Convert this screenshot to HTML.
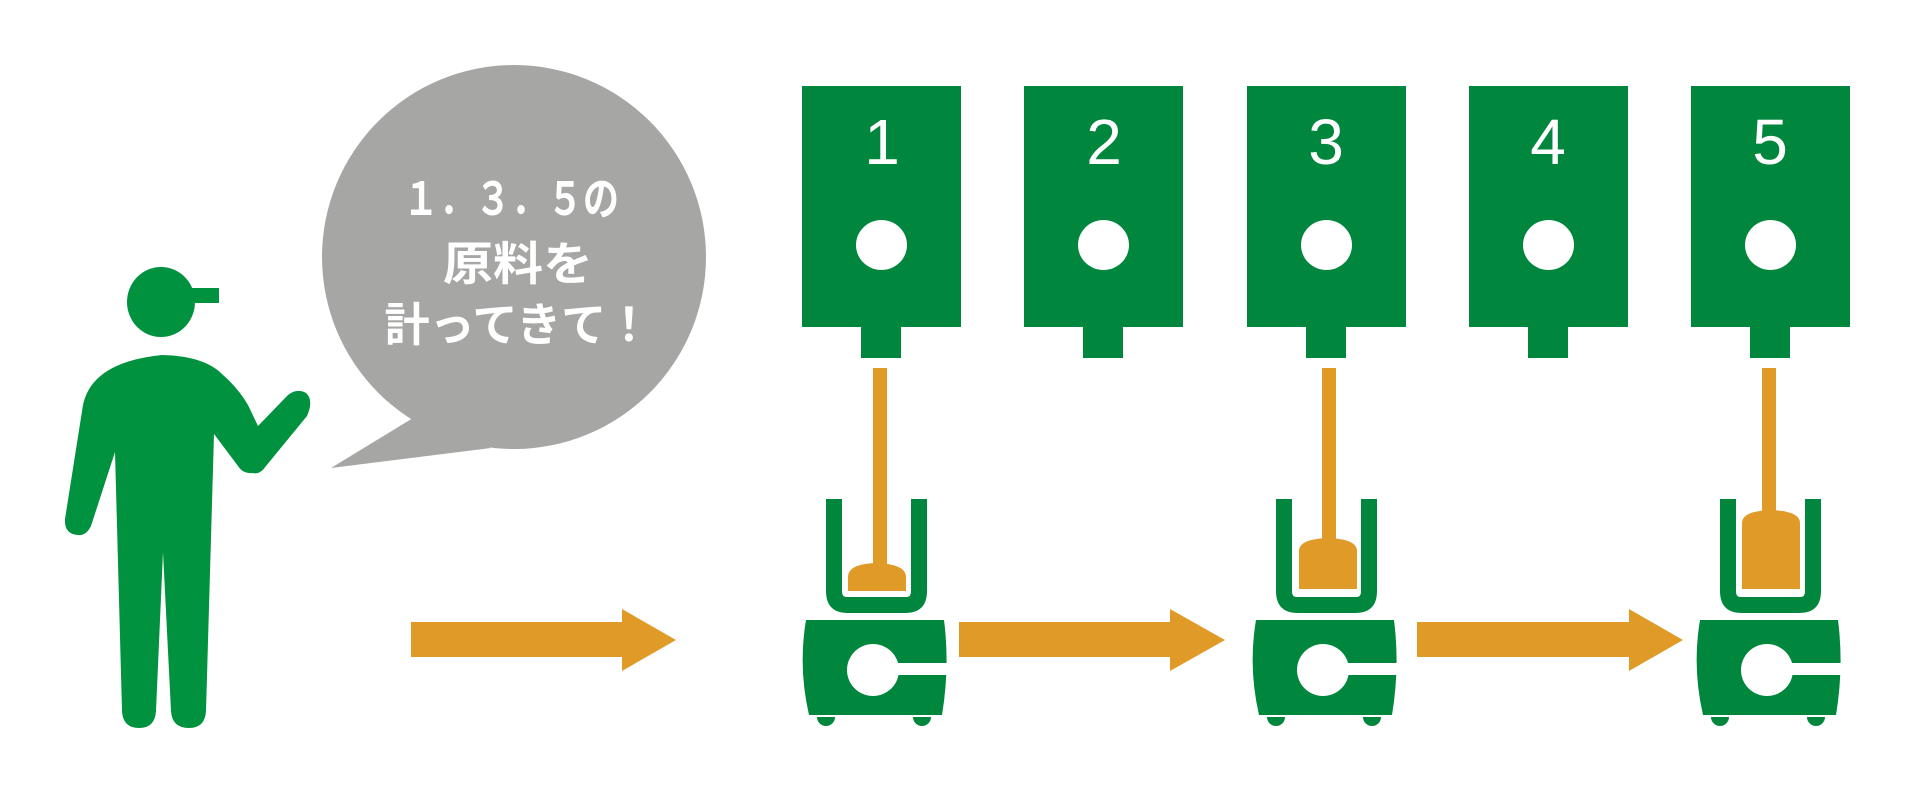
<!DOCTYPE html>
<html><head><meta charset="utf-8"><style>
html,body{margin:0;padding:0;background:#fff;}
svg{display:block;}
</style></head><body>
<svg width="1914" height="794" viewBox="0 0 1914 794" xmlns="http://www.w3.org/2000/svg">
<defs>
<g id="box">
  <rect x="0" y="86" width="159" height="241" fill="#00873d"/>
  <rect x="59" y="326" width="40" height="32" fill="#00873d"/>
  <ellipse cx="79.5" cy="245" rx="25.5" ry="25" fill="#fff"/>
</g>
<g id="mach">
  <path d="M826 499 H842 V592 Q842 597 847 597 H906 Q911 597 911 592 V499 H927 V591 Q927 613 905 613 H848 Q826 613 826 591 Z" fill="#00873d"/>
  <path d="M806 620 H944 Q950 667 942 715 H809 Q798 667 806 620 Z" fill="#00873d"/>
  <circle cx="873" cy="670" r="26" fill="#fff"/>
  <rect x="890" y="663" width="62" height="12" fill="#fff"/>
  <path d="M817 717 A9 9 0 0 0 835 717 Z" fill="#00873d"/>
  <path d="M913 717 A9 9 0 0 0 931 717 Z" fill="#00873d"/>
</g>
</defs>

<!-- person -->
<g fill="#00923f">
  <ellipse cx="161" cy="302" rx="34" ry="35"/>
  <rect x="186" y="288" width="33" height="15"/>
  <path d="M83 405 Q92 362 162 355 Q205 356 223 375 Q238 388 248 405 L258 426 L288 395 Q297 388 306 393 Q314 400 307 416 L266 466 Q260 475 253 473 Q243 474 238 466 L214 434 L206 711 Q205 728 189 728 Q172 728 171 711 L163 552 L156 711 Q155 728 139 728 Q123 728 122 711 L115 452 L91 526 Q86 536 78 535 Q64 534 65 519 Z"/>
</g>

<!-- bubble -->
<g fill="#a6a6a4">
  <ellipse cx="514" cy="257" rx="192" ry="192"/>
  <path d="M413 418 L331 468 L491 448 Z"/>
</g>
<g fill="#fff" font-family="'Liberation Sans','Noto Sans CJK JP',sans-serif" font-weight="bold" font-size="46" text-anchor="middle">
  <text x="511" y="215" textLength="216" lengthAdjust="spacingAndGlyphs">１．３．５の</text>
  <text x="518" y="280" textLength="150" lengthAdjust="spacingAndGlyphs">原料を</text>
  <text x="518" y="341" textLength="267" lengthAdjust="spacingAndGlyphs">計ってきて！</text>
</g>

<!-- boxes -->
<use href="#box" x="802"/>
<use href="#box" x="1024"/>
<use href="#box" x="1247"/>
<use href="#box" x="1469"/>
<use href="#box" x="1691"/>
<g fill="#fff" font-family="'Liberation Sans',sans-serif" font-size="64" text-anchor="middle">
  <text x="882" y="164">1</text>
  <text x="1104" y="164">2</text>
  <text x="1326" y="164">3</text>
  <text x="1548" y="164">4</text>
  <text x="1770" y="164">5</text>
</g>

<!-- machines -->
<use href="#mach"/>
<use href="#mach" x="450"/>
<use href="#mach" x="894"/>

<!-- plungers -->
<g fill="#e09a27">
  <rect x="873" y="368" width="14" height="200"/>
  <path d="M848 591 V577 Q848 564 876 563 Q906 564 906 577 V591 Z"/>
  <rect x="1322" y="368" width="14" height="175"/>
  <path d="M1299 589 V551 Q1299 539 1328 538 Q1357 539 1357 551 V589 Z"/>
  <rect x="1762" y="368" width="14" height="147"/>
  <path d="M1742 589 V523 Q1742 511 1771 510 Q1800 511 1800 523 V589 Z"/>
</g>

<!-- arrows -->
<g fill="#e09a27">
  <path d="M411 622 H622 V609 L676 640 L622 671 V657 H411 Z"/>
  <path d="M959 622 H1170 V609 L1225 640 L1170 671 V657 H959 Z"/>
  <path d="M1417 622 H1629 V609 L1683 640 L1629 671 V657 H1417 Z"/>
</g>
</svg>
</body></html>
